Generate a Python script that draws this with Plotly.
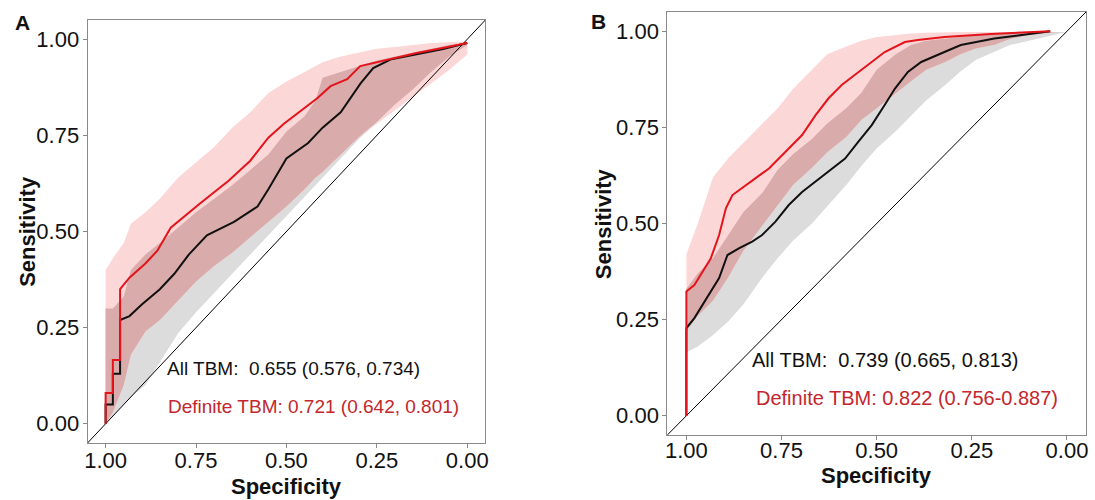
import numpy as np
import plotly.graph_objects as go

# ---------------- data ----------------
# Panel A: confidence bands on a specificity grid
specA_grid = [1.00, 0.98, 0.95, 0.93, 0.89, 0.85, 0.80, 0.75, 0.70, 0.65, 0.60, 0.55,
              0.50, 0.45, 0.42, 0.40, 0.35, 0.30, 0.25, 0.20, 0.15, 0.10, 0.05, 0.00]
def_hi_A = [0.40, 0.43, 0.47, 0.52, 0.55, 0.585, 0.64, 0.68, 0.72, 0.77, 0.81, 0.86,
            0.89, 0.915, 0.93, 0.94, 0.955, 0.965, 0.975, 0.98, 0.985, 0.99, 0.992, 0.995]
def_lo_A = [0.00, 0.03, 0.10, 0.18, 0.24, 0.27, 0.32, 0.37, 0.41, 0.445, 0.485, 0.525,
            0.565, 0.61, 0.64, 0.655, 0.70, 0.745, 0.78, 0.815, 0.85, 0.885, 0.92, 0.96]
all_hi_A = [0.30, 0.30, 0.33, 0.40, 0.44, 0.47, 0.51, 0.55, 0.585, 0.62, 0.66, 0.70,
            0.76, 0.80, 0.84, 0.90, 0.915, 0.93, 0.945, 0.955, 0.965, 0.975, 0.985, 0.99]
all_lo_A = [0.00, 0.02, 0.05, 0.07, 0.10, 0.16, 0.235, 0.29, 0.34, 0.39, 0.44, 0.49,
            0.54, 0.59, 0.62, 0.64, 0.69, 0.74, 0.785, 0.83, 0.87, 0.915, 0.955, 0.985]
# Panel A: ROC curves
all_spec_A = [1.00, 1.00, 0.98, 0.98, 0.96, 0.96, 0.934, 0.90, 0.85, 0.81, 0.77, 0.72, 0.645,
              0.58, 0.55, 0.525, 0.50, 0.44, 0.40, 0.35, 0.32, 0.295, 0.26, 0.21, 0.14, 0.07, 0.00]
all_sens_A = [0.00, 0.05, 0.05, 0.13, 0.13, 0.27, 0.28, 0.31, 0.35, 0.39, 0.44, 0.49, 0.525,
              0.565, 0.61, 0.65, 0.69, 0.73, 0.77, 0.81, 0.85, 0.885, 0.925, 0.948, 0.961, 0.974, 0.99]
def_spec_A = [1.00, 1.00, 0.98, 0.98, 0.96, 0.96, 0.934, 0.89, 0.857, 0.82, 0.74, 0.66, 0.60,
              0.55, 0.507, 0.46, 0.414, 0.378, 0.332, 0.296, 0.26, 0.214, 0.14, 0.068, 0.00]
def_sens_A = [0.00, 0.08, 0.08, 0.166, 0.166, 0.35, 0.38, 0.417, 0.45, 0.51, 0.572, 0.632, 0.684,
              0.744, 0.78, 0.813, 0.847, 0.878, 0.896, 0.93, 0.938, 0.948, 0.964, 0.977, 0.99]

# Panel B: confidence bands
specB_grid = [1.00, 0.97, 0.93, 0.89, 0.85, 0.80, 0.76, 0.72, 0.67, 0.63, 0.58, 0.54, 0.50,
              0.45, 0.41, 0.37, 0.32, 0.28, 0.24, 0.19, 0.15, 0.10, 0.06, 0.02, 0.00]
def_hi_B = [0.42, 0.50, 0.62, 0.67, 0.71, 0.76, 0.80, 0.85, 0.90, 0.94, 0.96, 0.975, 0.985,
            0.99, 0.994, 0.996, 0.998, 0.998, 0.998, 0.998, 0.998, 0.998, 0.998, 0.998, 0.998]
def_lo_B = [0.22, 0.26, 0.30, 0.36, 0.43, 0.495, 0.55, 0.60, 0.645, 0.685, 0.725, 0.77, 0.80,
            0.84, 0.87, 0.90, 0.92, 0.94, 0.955, 0.965, 0.98, 0.99, 0.995, 0.998, 0.998]
all_hi_B = [0.33, 0.37, 0.41, 0.47, 0.53, 0.58, 0.64, 0.68, 0.72, 0.76, 0.80, 0.84, 0.90,
            0.94, 0.964, 0.975, 0.98, 0.985, 0.99, 0.994, 0.997, 0.998, 0.998, 0.998, 0.998]
all_lo_B = [0.165, 0.18, 0.21, 0.245, 0.29, 0.36, 0.41, 0.455, 0.50, 0.545, 0.60, 0.65, 0.695,
            0.74, 0.78, 0.82, 0.86, 0.895, 0.925, 0.946, 0.964, 0.975, 0.985, 0.995, 0.998]
# Panel B: ROC curves
all_spec_B = [1.00, 1.00, 0.979, 0.957, 0.936, 0.914, 0.892, 0.861, 0.827, 0.801, 0.766, 0.731,
              0.696, 0.661, 0.627, 0.583, 0.548, 0.513, 0.479, 0.452, 0.418, 0.383, 0.322,
              0.279, 0.191, 0.044]
all_sens_B = [0.00, 0.228, 0.254, 0.289, 0.323, 0.358, 0.418, 0.436, 0.453, 0.47, 0.505, 0.548,
              0.582, 0.609, 0.635, 0.669, 0.713, 0.756, 0.808, 0.851, 0.894, 0.92, 0.946,
              0.964, 0.981, 1.00]
def_spec_B = [1.00, 1.00, 0.979, 0.957, 0.936, 0.914, 0.896, 0.879, 0.853, 0.818, 0.783, 0.74,
              0.696, 0.661, 0.627, 0.592, 0.548, 0.513, 0.479, 0.426, 0.392, 0.322, 0.20, 0.044]
def_sens_B = [0.00, 0.323, 0.34, 0.375, 0.409, 0.47, 0.54, 0.574, 0.592, 0.618, 0.643, 0.687,
              0.73, 0.781, 0.825, 0.86, 0.894, 0.92, 0.946, 0.972, 0.977, 0.985, 0.993, 1.00]

tick_vals = [1.00, 0.75, 0.50, 0.25, 0.00]
tick_text = ["1.00", "0.75", "0.50", "0.25", "0.00"]
axis_range = [1.05, -0.05]

labels_A = ["All TBM:\u00a0 0.655 (0.576, 0.734)", "Definite TBM: 0.721 (0.642, 0.801)"]
labels_B = ["All TBM:\u00a0 0.739 (0.665, 0.813)", "Definite TBM: 0.822 (0.756-0.887)"]

# ---------------- style ----------------
FONT = "Liberation Sans, Arial, Helvetica, sans-serif"
GRAY_FILL = "#dcdcdc"
PINK_FILL = "#fcd7d7"
ROSE_FILL = "#d9abaa"
RED = "#e3141c"
RED_TXT = "#c4262d"
BLACK = "#111111"
FRAME = "#8a8a8a"

fig = go.Figure()


def add_band(xa, ya, x, lo, hi, color):
    fig.add_trace(go.Scatter(x=x, y=lo, mode="lines", line=dict(width=0, color=color),
                             showlegend=False, hoverinfo="skip", xaxis=xa, yaxis=ya))
    fig.add_trace(go.Scatter(x=x, y=hi, mode="lines", line=dict(width=0, color=color),
                             fill="tonexty", fillcolor=color,
                             showlegend=False, hoverinfo="skip", xaxis=xa, yaxis=ya))


def add_panel(xa, ya, grid, dlo, dhi, alo, ahi, asx, asy, dsx, dsy):
    grid = np.array(grid)
    dlo, dhi, alo, ahi = map(np.array, (dlo, dhi, alo, ahi))
    ov_lo = np.maximum(dlo, alo)
    ov_hi = np.maximum(np.minimum(dhi, ahi), ov_lo)
    add_band(xa, ya, grid, alo, ahi, GRAY_FILL)
    add_band(xa, ya, grid, dlo, dhi, PINK_FILL)
    add_band(xa, ya, grid, ov_lo, ov_hi, ROSE_FILL)
    dx = np.array(axis_range)
    fig.add_trace(go.Scatter(x=dx, y=1 - dx, mode="lines", line=dict(color="black", width=1),
                             showlegend=False, hoverinfo="skip", xaxis=xa, yaxis=ya))
    fig.add_trace(go.Scatter(x=asx, y=asy, mode="lines", line=dict(color=BLACK, width=2),
                             name="All TBM", showlegend=False, xaxis=xa, yaxis=ya))
    fig.add_trace(go.Scatter(x=dsx, y=dsy, mode="lines", line=dict(color=RED, width=2),
                             name="Definite TBM", showlegend=False, xaxis=xa, yaxis=ya))


add_panel("x", "y", specA_grid, def_lo_A, def_hi_A, all_lo_A, all_hi_A,
          all_spec_A, all_sens_A, def_spec_A, def_sens_A)
add_panel("x2", "y2", specB_grid, def_lo_B, def_hi_B, all_lo_B, all_hi_B,
          all_spec_B, all_sens_B, def_spec_B, def_sens_B)

W, H = 1095, 500


def xaxis(domain, anchor, standoff):
    return dict(domain=domain, range=axis_range, tickvals=tick_vals, ticktext=tick_text,
                anchor=anchor,
                showline=True, mirror=True, linecolor=FRAME, linewidth=1,
                ticks="outside", ticklen=4, tickcolor=FRAME, showgrid=False, zeroline=False,
                ticklabelstandoff=standoff,
                tickfont=dict(family=FONT, size=22, color=BLACK))


def yaxis(domain, anchor):
    return dict(domain=domain, range=axis_range[::-1], tickvals=tick_vals, ticktext=tick_text,
                anchor=anchor,
                showline=True, mirror=True, linecolor=FRAME, linewidth=1,
                ticks="outside", ticklen=4, tickcolor=FRAME, showgrid=False, zeroline=False,
                ticklabelstandoff=-1,
                tickfont=dict(family=FONT, size=22, color=BLACK))


xa1 = xaxis([85 / W, 485 / W], "y", -6)
xa2 = xaxis([668 / W, 1089 / W], "y2", -8)
ya1 = yaxis([57 / H, 480 / H], "x")
ya2 = yaxis([65 / H, 488 / H], "x2")

title_font = dict(family=FONT, size=22, color=BLACK)
annotations = [
    dict(text="<b>A</b>", x=20 / W, y=1 - 22 / H, xref="paper", yref="paper", showarrow=False,
         xanchor="center", yanchor="middle", font=dict(family=FONT, size=21, color=BLACK)),
    dict(text="<b>B</b>", x=599 / W, y=1 - 21 / H, xref="paper", yref="paper", showarrow=False,
         xanchor="center", yanchor="middle", font=dict(family=FONT, size=21, color=BLACK)),
    # axis titles
    dict(text="<b>Specificity</b>", x=285 / W, y=1 - 486 / H, xref="paper", yref="paper",
         showarrow=False, xanchor="center", yanchor="middle", font=title_font),
    dict(text="<b>Specificity</b>", x=878.5 / W, y=1 - 475 / H, xref="paper", yref="paper",
         showarrow=False, xanchor="center", yanchor="middle", font=title_font),
    dict(text="<b>Sensitivity</b>", x=24.5 / W, y=1 - 231.5 / H, xref="paper", yref="paper",
         showarrow=False, xanchor="center", yanchor="middle", textangle=-90, font=title_font),
    dict(text="<b>Sensitivity</b>", x=604 / W, y=1 - 223.5 / H, xref="paper", yref="paper",
         showarrow=False, xanchor="center", yanchor="middle", textangle=-90, font=title_font),
    # AUC labels
    dict(text=labels_A[0], x=0.836, y=0.145, xref="x", yref="y", xanchor="left", showarrow=False,
         font=dict(family=FONT, size=19, color=BLACK)),
    dict(text=labels_A[1], x=0.833, y=0.044, xref="x", yref="y", xanchor="left", showarrow=False,
         font=dict(family=FONT, size=19, color=RED_TXT)),
    dict(text=labels_B[0], x=0.832, y=0.145, xref="x2", yref="y2", xanchor="left", showarrow=False,
         font=dict(family=FONT, size=20, color=BLACK)),
    dict(text=labels_B[1], x=0.821, y=0.047, xref="x2", yref="y2", xanchor="left", showarrow=False,
         font=dict(family=FONT, size=20, color=RED_TXT)),
]

fig.update_layout(width=W, height=H, margin=dict(l=0, r=0, t=0, b=0),
                  paper_bgcolor="white", plot_bgcolor="white", showlegend=False,
                  xaxis=xa1, yaxis=ya1, xaxis2=xa2, yaxis2=ya2,
                  annotations=annotations, font=dict(family=FONT))

fig.write_html("out.html")
